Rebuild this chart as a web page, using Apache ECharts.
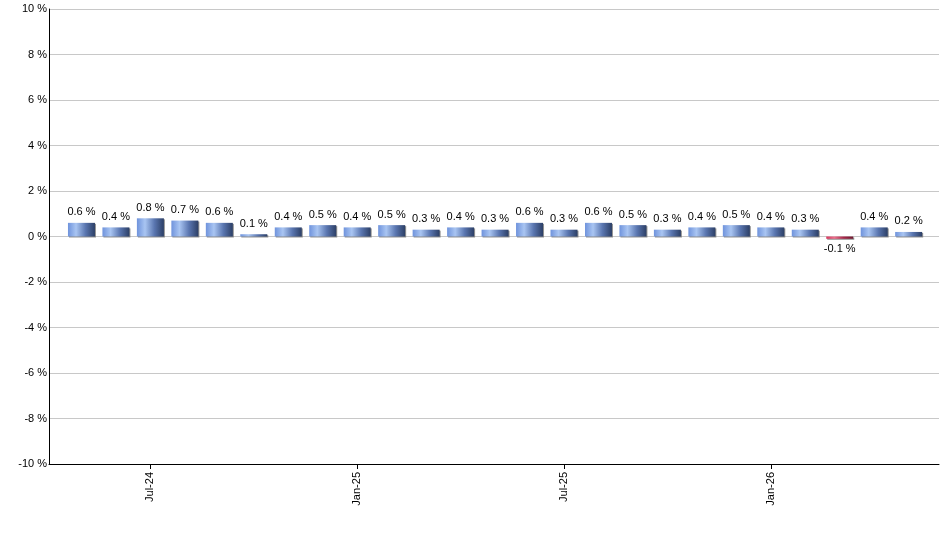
<!DOCTYPE html>
<html>
<head>
    <meta charset="UTF-8">
    <title>Monthly change</title>
    <script type="text/javascript" src="https://cdn.jsdelivr.net/npm/echarts@6/dist/echarts.min.js"></script>
    <style>
        html, body { margin: 0; padding: 0; background: #fff; }
        #main { width: 940px; height: 550px; }
    </style>
</head>
<body>
<div id="main"></div>
<script type="text/javascript">
    // months, May-24 .. May-26
    var months = ['May-24', 'Jun-24', 'Jul-24', 'Aug-24', 'Sep-24', 'Oct-24', 'Nov-24', 'Dec-24',
        'Jan-25', 'Feb-25', 'Mar-25', 'Apr-25', 'May-25', 'Jun-25', 'Jul-25', 'Aug-25', 'Sep-25',
        'Oct-25', 'Nov-25', 'Dec-25', 'Jan-26', 'Feb-26', 'Mar-26', 'Apr-26', 'May-26'];
    var values = [0.6, 0.4, 0.8, 0.7, 0.6, 0.1, 0.4, 0.5, 0.4, 0.5, 0.3, 0.4, 0.3, 0.6, 0.3,
        0.6, 0.5, 0.3, 0.4, 0.5, 0.4, 0.3, -0.1, 0.4, 0.2];
    var tickMonths = ['Jul-24', 'Jan-25', 'Jul-25', 'Jan-26'];
    var yTicks = [-10, -8, -6, -4, -2, 0, 2, 4, 6, 8, 10];

    var blueBar = new echarts.graphic.LinearGradient(0, 0, 1, 0, [
        {offset: 0, color: '#6f93dc'},
        {offset: 0.3, color: '#a9c5f2'},
        {offset: 0.65, color: '#5a76b0'},
        {offset: 1, color: '#2c3f66'}
    ]);
    var redBar = new echarts.graphic.LinearGradient(0, 0, 1, 0, [
        {offset: 0, color: '#d8365e'},
        {offset: 0.3, color: '#ee6f8c'},
        {offset: 0.65, color: '#a8284a'},
        {offset: 1, color: '#6e1a30'}
    ]);

    var barData = [];
    for (var i = 0; i < values.length; i++) {
        var v = values[i];
        barData.push({
            value: [i, v],
            itemStyle: {color: v < 0 ? redBar : blueBar},
            label: {position: v < 0 ? 'bottom' : 'top'}
        });
    }
    var tickIdx = tickMonths.map(function (m) { return months.indexOf(m); });

    var myChart = echarts.init(document.getElementById('main'));
    myChart.setOption({
        animation: false,
        grid: {left: 49, right: 1, top: 9, bottom: 86},
        xAxis: {
            type: 'value',
            min: -0.942,
            max: 24.88,
            axisLine: {show: true, onZero: false, lineStyle: {color: '#000', width: 1}},
            axisTick: {show: true, length: 5, customValues: tickIdx, lineStyle: {color: '#000'}},
            axisLabel: {
                show: true,
                customValues: tickIdx,
                rotate: 90,
                margin: 8,
                color: '#000',
                fontSize: 11,
                fontFamily: 'Liberation Sans, Arial, sans-serif',
                formatter: function (val) { return months[Math.round(val)] || ''; }
            },
            splitLine: {show: false}
        },
        yAxis: {
            type: 'value',
            min: yTicks[0],
            max: yTicks[yTicks.length - 1],
            interval: 2,
            axisLine: {show: true, onZero: false, lineStyle: {color: '#000', width: 1}},
            axisTick: {show: false},
            axisLabel: {
                formatter: '{value} %',
                color: '#000',
                fontSize: 11,
                margin: 2,
                fontFamily: 'Liberation Sans, Arial, sans-serif'
            },
            splitLine: {lineStyle: {color: '#c8c8c8', width: 1}}
        },
        series: [{
            type: 'bar',
            barWidth: 27,
            data: barData,
            itemStyle: {
                shadowColor: 'rgba(120,120,120,0.8)',
                shadowOffsetX: 1,
                shadowOffsetY: 1,
                shadowBlur: 0
            },
            label: {
                show: true,
                distance: 5,
                color: '#000',
                fontSize: 11,
                fontFamily: 'Liberation Sans, Arial, sans-serif',
                formatter: function (p) { return p.value[1].toFixed(1) + ' %'; }
            }
        }]
    });
</script>
</body>
</html>
